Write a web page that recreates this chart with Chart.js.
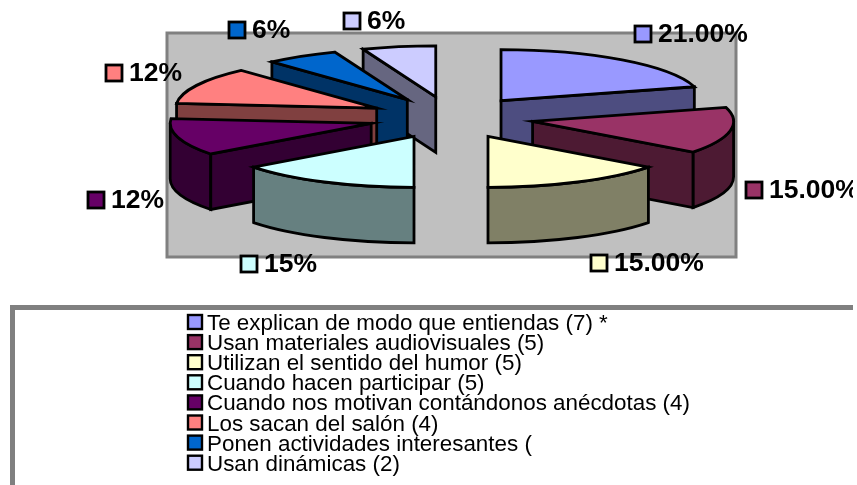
<!DOCTYPE html>
<html><head><meta charset="utf-8">
<style>html,body{margin:0;padding:0;background:#fff}canvas{display:block}</style>
<script src="https://cdn.jsdelivr.net/npm/chart.js@4/dist/chart.umd.min.js"></script>
</head><body>
<canvas id="c" width="853" height="485"></canvas>
<script>
const categories = ["Te explican de modo que entiendas (7) *","Usan materiales audiovisuales (5)","Utilizan el sentido del humor (5)","Cuando hacen participar (5)","Cuando nos motivan contándonos anécdotas (4)","Los sacan del salón (4)","Ponen actividades interesantes (","Usan dinámicas (2)"];
const values = [7,5,5,5,4,4,2,2];
const valueLabels = ["21.00%","15.00%","15.00%","15%","12%","12%","6%","6%"];
const topColors = ["#9999ff","#993366","#ffffcc","#ccffff","#660066","#ff8080","#0066cc","#ccccff"];
const sideColors = ["#4d4d80","#4d1a33","#808066","#668080","#330033","#804040","#003366","#666680"];
const labelAnchors = [[633.5,25],[744.5,181],[589.5,254],[239.5,255],[86.5,191],[104.5,64],[227.5,21],[342.5,12]];

const squash = 51/201, depth = 55.5, explode = 83;
const plugin = {
  id:'pie3d',
  beforeDatasetDraw(chart,args){
    const ctx = chart.ctx, arcs = args.meta.data;
    ctx.save();
    ctx.fillStyle='#c0c0c0'; ctx.strokeStyle='#808080'; ctx.lineWidth=3;
    ctx.fillRect(167,33,569,224); ctx.strokeRect(167,33,569,224);
    ctx.lineWidth=2.8; ctx.lineJoin='miter'; ctx.miterLimit=10; ctx.strokeStyle='#000';
    const items = arcs.map((a,i)=>{
      const mid=(a.startAngle+a.endAngle)/2;
      return {i,a,mid,cx:a.x+Math.cos(mid)*explode,cy:a.y+Math.sin(mid)*explode*squash};
    }).sort((p,q)=>p.cy-q.cy);
    const R=a=>a.outerRadius, pt=(it,t)=>[it.cx+R(it.a)*Math.cos(t),it.cy+R(it.a)*squash*Math.sin(t)];
    for(const it of items){
      const {a,i,cx,cy}=it, rx=R(a), ry=rx*squash;
      ctx.fillStyle=sideColors[i];
      // outer rim, front half only
      const f0=Math.max(a.startAngle,0), f1=Math.min(a.endAngle,Math.PI);
      if(f1>f0){
        ctx.beginPath(); ctx.ellipse(cx,cy,rx,ry,0,f0,f1);
        ctx.ellipse(cx,cy+depth,rx,ry,0,f1,f0,true); ctx.closePath(); ctx.fill(); ctx.stroke();
      }
      // radial cut face
      const t=Math.cos(it.mid)>0?a.endAngle:a.startAngle, p=pt(it,t);
      if(Math.abs(Math.cos(t))>0.02){
        ctx.beginPath(); ctx.moveTo(cx,cy); ctx.lineTo(p[0],p[1]); ctx.lineTo(p[0],p[1]+depth); ctx.lineTo(cx,cy+depth);
        ctx.closePath(); ctx.fill(); ctx.stroke();
      }
      // top face
      ctx.fillStyle=topColors[i];
      ctx.beginPath(); ctx.moveTo(cx,cy); ctx.ellipse(cx,cy,rx,ry,0,a.startAngle,a.endAngle); ctx.closePath(); ctx.fill(); ctx.stroke();
    }
    // data labels
    ctx.textBaseline='alphabetic'; ctx.textAlign='left';
    valueLabels.forEach((s,i)=>{
      const [x,y]=labelAnchors[i];
      ctx.fillStyle=topColors[i]; ctx.strokeStyle='#000'; ctx.lineWidth=2.8;
      ctx.fillRect(x+1.5,y+1,16,16); ctx.strokeRect(x+1.5,y+1,16,16);
      ctx.fillStyle='#000'; ctx.font='bold 26.5px "Liberation Sans", Arial, sans-serif';
      ctx.fillText(s,x+24.5,y+17);
    });
    // legend
    ctx.fillStyle='#fff'; ctx.strokeStyle='#808080'; ctx.lineWidth=5;
    ctx.beginPath(); ctx.moveTo(12.5,490); ctx.lineTo(12.5,307.5); ctx.lineTo(860,307.5); ctx.stroke();
    categories.forEach((s,i)=>{
      const y=314+i*20.1;
      ctx.fillStyle=topColors[i]; ctx.strokeStyle='#000'; ctx.lineWidth=2.4;
      ctx.fillRect(188,y+1,14,14); ctx.strokeRect(188,y+1,14,14);
      ctx.fillStyle='#000'; ctx.font='22.4px "Liberation Sans", Arial, sans-serif';
      ctx.fillText(s,207,y+16);
    });
    ctx.restore();
    return false;
  }
};
new Chart(document.getElementById('c'),{
  type:'pie',
  data:{labels:categories,datasets:[{data:values,backgroundColor:topColors,borderColor:'#000',borderWidth:2.8,radius:201}]},
  options:{responsive:false,animation:false,layout:{padding:{left:49,right:0,top:0,bottom:250}},
    plugins:{legend:{display:false},tooltip:{enabled:false}}},
  plugins:[plugin]
});
</script>
</body></html>
